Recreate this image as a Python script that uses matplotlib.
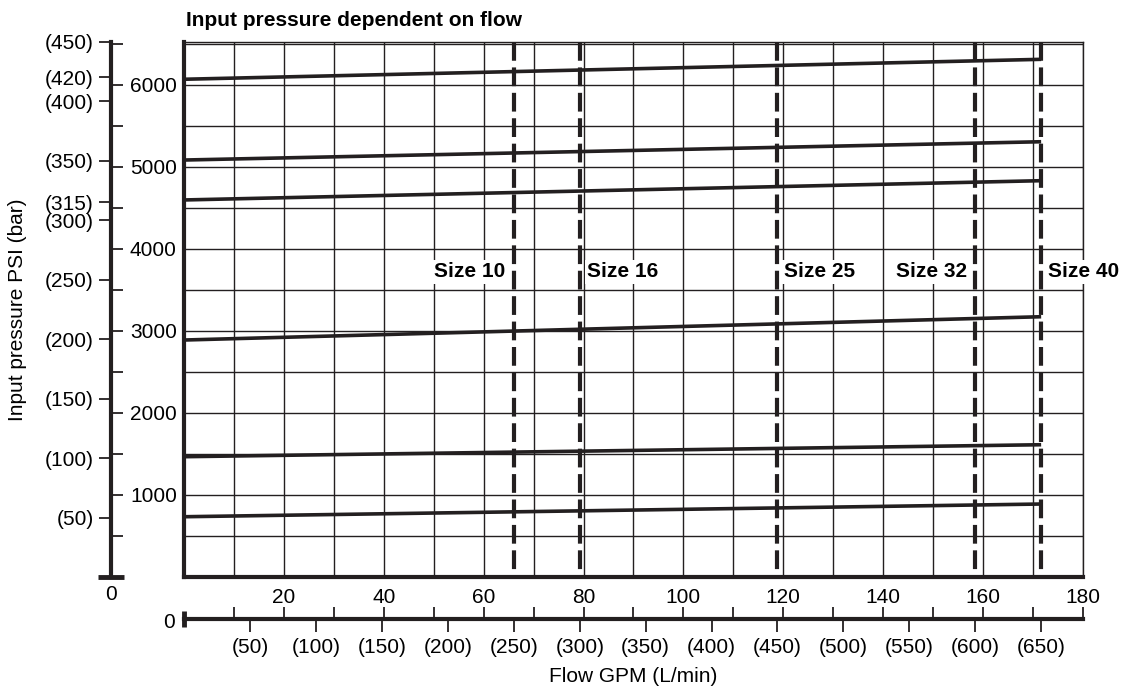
import numpy as np
import matplotlib
matplotlib.use('Agg')
from matplotlib import pyplot as plt

plt.rcParams['font.family'] = ['Liberation Sans', 'DejaVu Sans']
plt.rcParams['font.size'] = 15

ink = '#231f20'
BAR_TO_PSI = 14.5038
GPM_TO_LPM = 3.78541

# pressure lines: psi at zero flow and at 650 L/min
line_flow_lpm = [0, 650]
line_psi_start = [6070, 5085, 4598, 2890, 1467, 735]
line_psi_end = [6313, 5308, 4833, 3174, 1613, 890]

# valve sizes and their rated flow (L/min)
size_names = ['Size 10', 'Size 16', 'Size 25', 'Size 32', 'Size 40']
size_flow_lpm = [250, 300, 450, 600, 650]
size_label_side = ['left', 'right', 'right', 'left', 'right']
size_label_psi = 3720

# scale ticks
bar_ticks = [450, 420, 400, 350, 315, 300, 250, 200, 150, 100, 50]
psi_major = [1000, 2000, 3000, 4000, 5000, 6000]
psi_minor = [500, 1500, 2500, 3500, 4500, 5500, 6500]
gpm_major = [20, 40, 60, 80, 100, 120, 140, 160, 180]
gpm_minor = [10, 30, 50, 70, 90, 110, 130, 150, 170]
lpm_ticks = [50, 100, 150, 200, 250, 300, 350, 400, 450, 500, 550, 600, 650]

psi_top = 450 * BAR_TO_PSI
gpm_max = 180

W, H = 1122, 686


def px(x0, y0, x1, y1):
    # pixel box -> figure fraction rect
    return [x0 / W, 1 - y1 / H, (x1 - x0) / W, (y1 - y0) / H]


fig = plt.figure(figsize=(W / 100, H / 100), dpi=100)

# main chart grid
ax = fig.add_axes(px(184.3, 41.8, 1082.5, 577))
ax.set_xlim(0, gpm_max)
ax.set_ylim(0, psi_top)
ax.set_xticks(np.arange(0, gpm_max + 1, 10))
ax.set_yticks(np.arange(0, 6501, 500))
ax.tick_params(length=0, labelbottom=False, labelleft=False)
ax.grid(True, color=ink, lw=1.0)
ax.set_axisbelow(True)
for side in ['left', 'bottom']:
    ax.spines[side].set_linewidth(3)
    ax.spines[side].set_color(ink)
for side in ['top', 'right']:
    ax.spines[side].set_linewidth(1)
    ax.spines[side].set_color(ink)

for s, e in zip(line_psi_start, line_psi_end):
    ax.plot(np.array(line_flow_lpm) / GPM_TO_LPM, [s, e], color=ink, lw=2.6,
            solid_capstyle='butt', zorder=3)

for name, q, side in zip(size_names, size_flow_lpm, size_label_side):
    x = q / GPM_TO_LPM
    ax.plot([x, x], [psi_top, 0], color=ink, lw=3, ls=(0, (4.5, 1.6)), zorder=4)
    dx = -6 if side == 'left' else 5
    ax.annotate(name, xy=(x, size_label_psi), xytext=(dx, 0),
                textcoords='offset points', va='center',
                ha='right' if side == 'left' else 'left', weight='bold',
                bbox=dict(fc='white', ec='none', pad=1.5), zorder=5,
                annotation_clip=False)

# left scale: bar on the left, psi on the right
axl = fig.add_axes(px(98, 41.8, 124, 577))
axl.patch.set_visible(False)
axl.set_xlim(0, 1)
axl.set_ylim(0, psi_top)
axl.set_xticks([])
for side in ['top', 'right', 'bottom']:
    axl.spines[side].set_visible(False)
axl.spines['left'].set_position(('axes', 0.5))
axl.spines['left'].set_linewidth(3)
axl.spines['left'].set_color(ink)
axl.set_yticks([b * BAR_TO_PSI for b in bar_ticks], labels=[f'({b})' for b in bar_ticks])
axl.tick_params(axis='y', direction='out', length=8.6, width=1.3, color=ink, pad=4)
axl.plot([0, 1], [0, 0], color=ink, lw=3.5, clip_on=False, solid_capstyle='butt')
axl.annotate('0', xy=(0.5, 0), xytext=(0, -6), textcoords='offset points',
             ha='center', va='top')

axr = axl.twinx()
axr.set_ylim(0, psi_top)
for side in ['top', 'left', 'bottom', 'right']:
    axr.spines[side].set_visible(False)
axr.spines['right'].set_position(('axes', 0.5))
axr.set_yticks(psi_major, labels=[str(v) for v in psi_major])
axr.set_yticks(psi_minor, minor=True)
axr.tick_params(axis='y', which='both', direction='out', length=8.6, width=1.3,
                color=ink, pad=5)

# bottom scale: GPM above the line, L/min below
axb = fig.add_axes(px(184.3, 610, 1082.5, 628))
axb.patch.set_visible(False)
axb.set_xlim(0, gpm_max)
axb.set_ylim(0, 1)
axb.set_yticks([])
axq = axb.twiny()
axq.set_xlim(0, gpm_max * GPM_TO_LPM)

axb.xaxis.tick_top()
for side in ['left', 'right', 'bottom', 'top']:
    axb.spines[side].set_visible(False)
axb.spines['top'].set_position(('axes', 0.5))
axb.set_xticks(gpm_major, labels=[str(v) for v in gpm_major])
axb.set_xticks(gpm_minor, minor=True)
axb.tick_params(axis='x', which='both', direction='out', length=8.6, width=1.3,
                color=ink, pad=0)
axb.plot([0, 0], [0.05, 0.95], color=ink, lw=3.5, clip_on=False, solid_capstyle='butt')
axb.annotate('0', xy=(0, 0.5), xytext=(-7, -2.5), textcoords='offset points',
             ha='right', va='center')

axq.xaxis.tick_bottom()
for side in ['left', 'right', 'top']:
    axq.spines[side].set_visible(False)
axq.spines['bottom'].set_position(('axes', 0.5))
axq.spines['bottom'].set_linewidth(3)
axq.spines['bottom'].set_color(ink)
axq.set_xticks(lpm_ticks, labels=[f'({v})' for v in lpm_ticks])
axq.tick_params(axis='x', direction='out', length=9, width=1.3, color=ink, pad=5)

fig.text(186 / W, 1 - 20 / H, 'Input pressure dependent on flow', weight='bold',
         ha='left', va='center')
fig.text(18 / W, 1 - 310 / H, 'Input pressure PSI (bar)', rotation=90,
         ha='center', va='center')
fig.text(633 / W, 1 - 677 / H, 'Flow GPM (L/min)', ha='center', va='center')

fig.savefig('out.png', dpi=100)
